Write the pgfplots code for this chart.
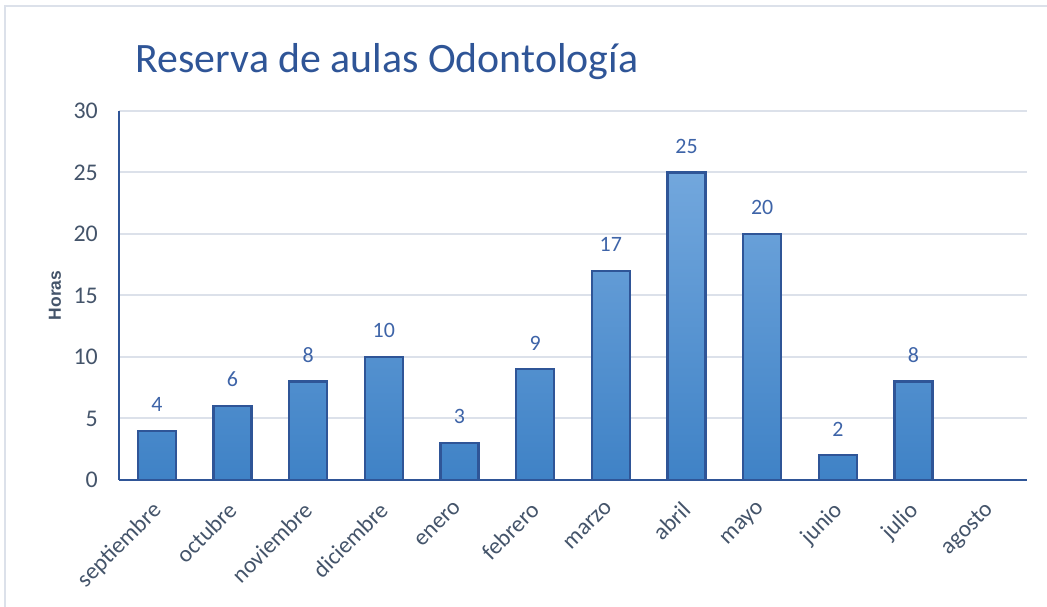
\documentclass[border=0pt]{standalone}
\usepackage{pgfplots}
\pgfplotsset{compat=1.18}
\usepackage{fontspec}
\setmainfont{Carlito}
\newfontfamily\horasfont{Liberation Sans}
\definecolor{titleblue}{HTML}{2F5597}
\definecolor{axisblue}{HTML}{2F5597}
\definecolor{labelgray}{HTML}{44546A}
\definecolor{datablue}{HTML}{3E64A8}
\definecolor{gridgray}{HTML}{DCE1EA}
\definecolor{bartop}{HTML}{72A7DD}
\definecolor{barbot}{HTML}{3F82C6}
\begin{document}
\begin{tikzpicture}[x=1bp,y=1bp]
\path[use as bounding box] (0,0) rectangle (1047,607);
\draw[gridgray, line width=2bp] (5,-5) -- (5,601) -- (1052,601);
\node[anchor=base, text=titleblue, font=\fontsize{42}{48}\selectfont] at (387,534) {Reserva de aulas Odontología};
\begin{axis}[
  at={(119bp,127bp)}, anchor=south west,
  scale only axis, width=908bp, height=369bp,
  xmin=-0.5, xmax=11.5, ymin=0, ymax=30,
  ytick={0,5,...,30},
  xtick={0,...,11},
  xticklabels={septiembre,octubre,noviembre,diciembre,enero,febrero,marzo,abril,mayo,junio,julio,agosto},
  axis x line*=bottom, axis y line*=left,
  axis line style={axisblue, line width=2.5bp, -},
  major tick length=0,
  ymajorgrids, grid style={gridgray, line width=2bp},
  yticklabel style={font=\fontsize{24}{28}\selectfont, text=labelgray, inner sep=0pt, anchor=east, xshift=-21bp},
  xticklabel style={font=\fontsize{23.5}{27}\selectfont, text=labelgray, inner sep=0pt, xshift=-6bp, yshift=-20bp, rotate=45, anchor=north east},
  ylabel={Horas},
  every axis y label/.style={at={(axis description cs:0,0.5)}, xshift=-64bp, rotate=90, anchor=center, font=\horasfont\bfseries\fontsize{17.5}{20}\selectfont, text=labelgray},
  /pgf/number format/assume math mode=true,
  clip=false,
]
\addplot[ybar, bar width=38bp, draw=axisblue, line width=2.2bp, top color=bartop, bottom color=barbot,
  nodes near coords,
  every node near coord/.style={font=\fontsize{22}{26}\selectfont, text=datablue, anchor=south, inner sep=0pt, yshift=18bp}]
  coordinates {(0,4) (1,6) (2,8) (3,10) (4,3) (5,9) (6,17) (7,25) (8,20) (9,2) (10,8)};
\end{axis}
\end{tikzpicture}
\end{document}
